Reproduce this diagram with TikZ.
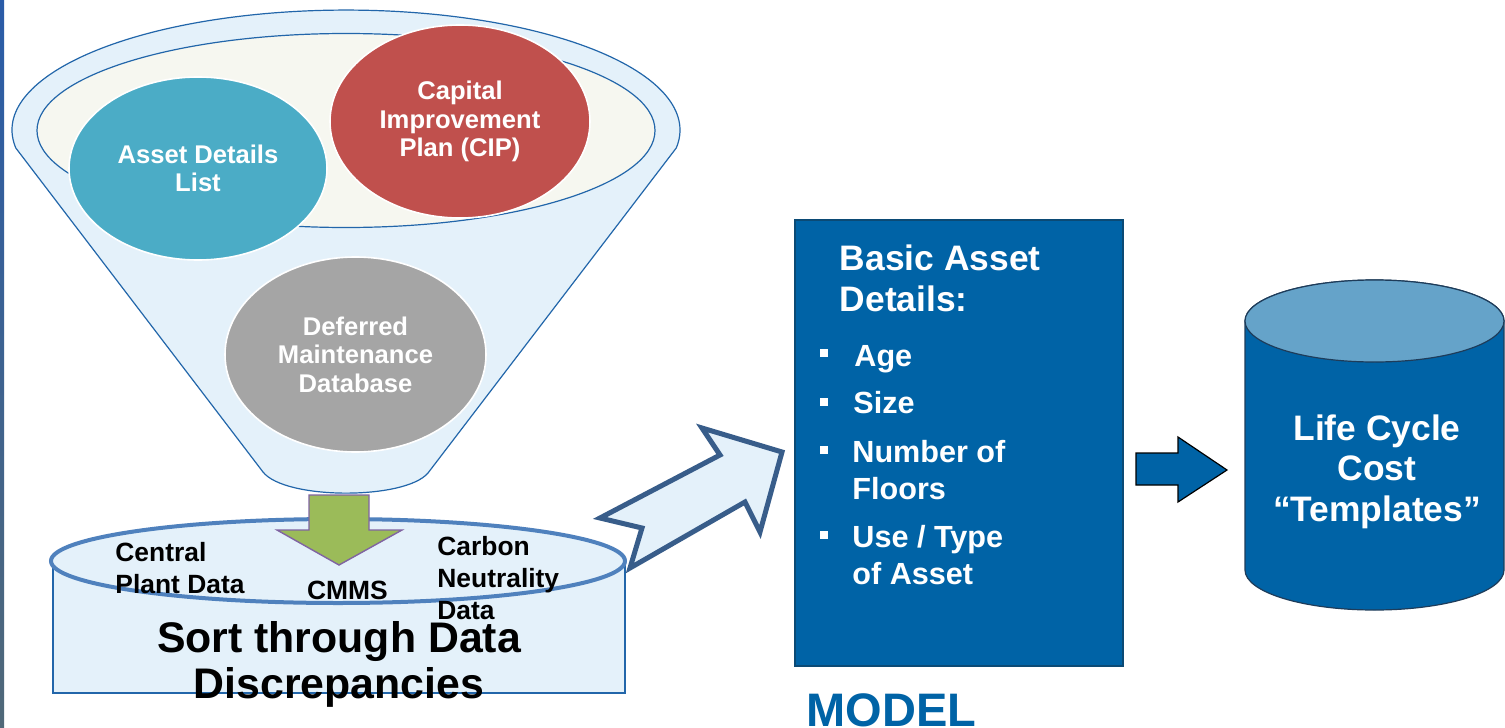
\documentclass[tikz,border=0pt]{standalone}
\usepackage{fontspec}
\setmainfont{Liberation Sans}
\usetikzlibrary{shapes.geometric}

\definecolor{funnelfill}{HTML}{E4F1FA}
\definecolor{funnelline}{HTML}{2266AA}
\definecolor{rimfill}{HTML}{F6F7F0}
\definecolor{aqua}{HTML}{4BACC6}
\definecolor{brick}{HTML}{C0504D}
\definecolor{greyblob}{HTML}{A5A5A5}
\definecolor{olive}{HTML}{9BBB59}
\definecolor{lilac}{HTML}{8064A2}
\definecolor{steel}{HTML}{4F81BD}
\definecolor{arrowline}{HTML}{385D8A}
\definecolor{modelblue}{HTML}{0063A6}
\definecolor{modelline}{HTML}{0B4A75}
\definecolor{toplight}{HTML}{65A3C9}
\definecolor{cylline}{HTML}{1E3C5A}
\definecolor{striptop}{HTML}{2A5CA8}
\definecolor{stripbottom}{HTML}{506878}

\begin{document}
\begin{tikzpicture}[x=0.5pt, y=-0.5pt, line join=miter,
    blob/.style={ellipse, draw=white, line width=0.8pt, inner sep=0pt, text=white, align=center,
      font=\bfseries\fontsize{12.8}{14.25}\selectfont},
    smalltext/.style={anchor=base west, inner sep=0pt, align=left, font=\bfseries\fontsize{13.2}{16}\selectfont},
    titletext/.style={anchor=base west, inner sep=0pt, align=left, text=white, font=\bfseries\fontsize{17.7}{20.5}\selectfont},
    itemtext/.style={anchor=base west, inner sep=0pt, align=left, text=white, font=\bfseries\fontsize{15.3}{18.5}\selectfont},
    bulletsq/.style={fill=white, minimum size=4pt, inner sep=0pt}]
  \useasboundingbox (0,0) rectangle (1505,728);
  \fill[white] (0,0) rectangle (1505,728);
  \shade[top color=striptop, bottom color=stripbottom] (0,0) rectangle (4,728);

  % Funnel
  \draw[fill=funnelfill, draw=funnelline, line width=0.6pt] (15.8,148) arc[start angle=171.4, end angle=368.6, x radius=334, y radius=120]
    -- (428,473) .. controls (405,500) and (285,500) .. (263,472) -- cycle;
  \draw[fill=rimfill, draw=funnelline, line width=0.6pt] (346,130.5) ellipse[x radius=309, y radius=97];

  % Nodes
  \node[blob, fill=aqua, minimum width=129pt, minimum height=91.5pt] (asset) at (198,168.5) {Asset Details\\List};
  \node[blob, fill=brick, minimum width=130pt, minimum height=96.5pt] (cip) at (460,121.5) {Capital\\Improvement\\Plan (CIP)};
  \node[blob, fill=greyblob, minimum width=130.5pt, minimum height=97.5pt] (deferred) at (355.5,354.5) {Deferred\\Maintenance\\Database};

  % Data store
  \draw[fill=funnelfill, draw=funnelline, line width=0.6pt] (53,561) rectangle (625,693);
  \draw[fill=funnelfill, draw=steel, line width=2pt] (338,561) ellipse[x radius=287, y radius=42];

  % Green arrow
  \draw[fill=olive, draw=lilac, line width=0.7pt] (309,495) -- (369,495) -- (369,530) -- (402,530)
    -- (339,565) -- (277,530) -- (309,530) -- cycle;

  \node[smalltext] (central) at (115,593.5) {Central\\Plant Data};
  \node[smalltext, anchor=base] (cmms) at (347.5,599.5) {CMMS};
  \node[smalltext] (carbon) at (437,619.5) {Carbon\\Neutrality\\Data};
  \node[anchor=base, inner sep=0pt, align=center, font=\bfseries\fontsize{21.4}{23}\selectfont] (sort) at (339,698) {Sort through Data\\Discrepancies};

  % Big arrow
  \draw[fill=funnelfill, draw=arrowline, line width=2.5pt] (600,518) -- (720,455) -- (702,428) -- (782,452)
    -- (760,532) -- (745,502) -- (630,568) -- (642,528) -- cycle;

  % Model box
  \draw[fill=modelblue, draw=modelline, line width=0.6pt] (795,220) rectangle (1123,666);
  \node[titletext] (basic) at (839.5,311) {Basic Asset\\Details:};
  \node[bulletsq] (b1) at (824,353) {};
  \node[bulletsq] (b2) at (824,402) {};
  \node[bulletsq] (b3) at (824,450) {};
  \node[bulletsq] (b4) at (824,535) {};
  \node[itemtext] (age) at (854,366) {Age};
  \node[itemtext] (size) at (853,413) {Size};
  \node[itemtext] (floors) at (852,499) {Number of\\Floors};
  \node[itemtext] (usetype) at (852,584) {Use / Type\\of Asset};
  \node[anchor=base west, inner sep=0pt, text=modelblue, font=\bfseries\fontsize{23.5}{26}\selectfont] (model) at (806,726) {MODEL};

  % Small arrow
  \draw[fill=modelblue, draw=black, line width=0.6pt] (1136,453) -- (1178,453) -- (1178,437) -- (1227,470)
    -- (1178,502) -- (1178,485) -- (1136,485) -- cycle;

  % Templates cylinder
  \draw[fill=modelblue, draw=cylline, line width=0.6pt] (1245,321) -- (1245,570)
    arc[start angle=180, end angle=0, x radius=129.5, y radius=40] -- (1504,321)
    arc[start angle=0, end angle=-180, x radius=129.5, y radius=41] -- cycle;
  \draw[fill=toplight, draw=cylline, line width=0.6pt] (1374.5,321) ellipse[x radius=129.5, y radius=41];
  \node[anchor=base, inner sep=0pt, align=center, text=white, font=\bfseries\fontsize{17.7}{20.25}\selectfont] (templates) at (1377,521) {Life Cycle\\Cost\\“Templates”};
\end{tikzpicture}
\end{document}
